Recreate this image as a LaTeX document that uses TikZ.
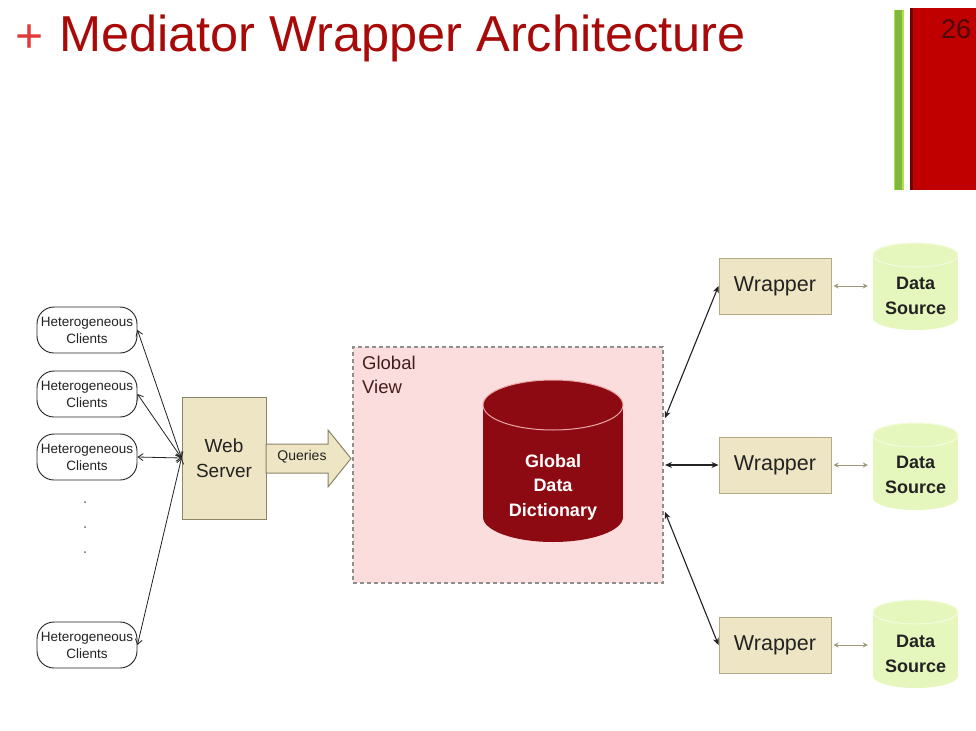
\documentclass[tikz,border=0pt]{standalone}
\usepackage{fontspec}
\setmainfont{Liberation Sans}
\usetikzlibrary{arrows.meta,calc}
\definecolor{titlered}{HTML}{A80A0A}
\definecolor{plusred}{HTML}{E03A3A}
\definecolor{slidered}{HTML}{C00000}
\definecolor{slidedark}{HTML}{700000}
\definecolor{numdark}{HTML}{4A0808}
\definecolor{barg}{HTML}{7DB840}
\definecolor{bargl}{HTML}{B8E040}
\definecolor{beige}{HTML}{EDE5C3}
\definecolor{beigeb}{HTML}{8A8468}
\definecolor{wrapb}{HTML}{B3AA86}
\definecolor{pinkf}{HTML}{FCDDDD}
\definecolor{dashg}{HTML}{8E8E8E}
\definecolor{dictred}{HTML}{8E0A12}
\definecolor{dictline}{HTML}{E8A8A8}
\definecolor{dsgreen}{HTML}{E6F7BE}
\definecolor{dstop}{HTML}{F3FCDD}
\definecolor{olivearrow}{HTML}{A09878}
\definecolor{txt}{HTML}{222222}
\tikzset{
  client/.style={draw=txt, line width=0.9pt, rounded corners=17pt, fill=white,
    minimum width=100pt, minimum height=46pt, inner sep=0pt, align=center,
    text=txt, font=\fontsize{13.5}{17}\selectfont},
  server/.style={draw=beigeb, line width=1pt, fill=beige, minimum width=84pt,
    minimum height=122pt, inner sep=0pt, align=center, text=txt,
    font=\fontsize{19}{25}\selectfont},
  wrapbox/.style={draw=wrapb, line width=1pt, fill=beige, minimum width=112pt,
    minimum height=56pt, inner sep=0pt, text=txt, font=\fontsize{21.5}{25}\selectfont},
  dslabel/.style={inner sep=0pt, align=center, text=txt,
    font=\bfseries\fontsize{18}{25}\selectfont, minimum width=85pt, minimum height=60pt},
  clientarrow/.style={{Straight Barb[length=5pt,width=7pt]}-{Straight Barb[length=5pt,width=7pt]}, draw=txt, line width=0.8pt},
  wraparrow/.style={{Stealth[length=7pt,width=6pt]}-{Stealth[length=7pt,width=6pt]}, draw=txt, line width=1.1pt},
  dsarrow/.style={{Stealth[length=5pt,width=5pt]}-{Stealth[length=5pt,width=5pt]}, draw=olivearrow, line width=0.9pt, shorten <=2pt, shorten >=5pt},
}
\begin{document}
\begin{tikzpicture}[x=1pt,y=-1pt]
\useasboundingbox (0,0) rectangle (976,730);
\fill[white] (0,0) rectangle (976,730);
% title
\node[anchor=base west, inner sep=0pt, text=plusred, font=\fontsize{48}{50}\selectfont] (plus) at (15,53) {+};
\node[anchor=base west, inner sep=0pt, text=titlered, font=\fontsize{50.5}{56}\selectfont] (title) at (59,52) {Mediator Wrapper Architecture};
% slide decoration
\fill[bargl] (894,10) rectangle (904,190);
\fill[barg] (895,10) rectangle (902,190);
\fill[slidered] (910,8) rectangle (976,190);
\fill[slidedark] (910,8) rectangle (913,190);
\node[anchor=base west, inner sep=0pt, text=numdark, font=\fontsize{27}{30}\selectfont] (num) at (941,39) {26};
% clients
\node[client] (c1) at (87,330) {Heterogeneous\\Clients};
\node[client] (c2) at (87,394) {Heterogeneous\\Clients};
\node[client] (c3) at (87,457) {Heterogeneous\\Clients};
\node[client] (c4) at (87,645) {Heterogeneous\\Clients};
\foreach \i/\yy in {1/502,2/527,3/552}{
  \fill[txt!70] (85,\yy) circle (1pt);
}
% web server
\node[server] (ws) at (224,458) {Web\\Server};
\foreach \c in {c1,c2,c3,c4}{
  \draw[clientarrow] (\c.east) -- (ws.west);
}
% queries arrow
\draw[draw=beigeb, line width=1pt, fill=beige, line join=miter]
  (266,444) -- (328,444) -- (328,430) -- (351,458.5) -- (328,487) -- (328,473) -- (266,473) -- cycle;
\node[inner sep=0pt, text=txt, font=\fontsize{14}{16}\selectfont] (q) at (302,457) {Queries};
% global view
\node[draw=dashg, dashed, dash pattern=on 4pt off 3pt, line width=1.2pt, fill=pinkf,
  minimum width=310pt, minimum height=236pt, inner sep=0pt] (gv) at (508,465) {};
\node[anchor=north west, inner sep=0pt, align=left, text=txt!85!red, font=\fontsize{18.5}{24}\selectfont] (gvl) at (362,356) {Global\\View};
% dictionary cylinder
\fill[dictred] (553,517) ellipse [x radius=70pt, y radius=25pt];
\fill[dictred] (483,405) rectangle (623,517);
\draw[dictline, line width=1pt, fill=dictred] (553,405) ellipse [x radius=70pt, y radius=25pt];
\node[inner sep=0pt, align=center, text=white, font=\bfseries\fontsize{18}{24.5}\selectfont] (gdd) at (553,487) {Global\\Data\\Dictionary};
% wrappers
\node[wrapbox] (w1) at (775,286) {Wrapper};
\node[wrapbox] (w2) at (775,465) {Wrapper};
\node[wrapbox] (w3) at (775,645) {Wrapper};
% data sources
\foreach \n/\yt/\yb in {1/255/318,2/435/498,3/612/676}{
  \fill[dsgreen] (915.5,\yb) ellipse [x radius=42.5pt, y radius=12pt];
  \fill[dsgreen] (873,\yt) rectangle (958,\yb);
  \draw[dstop, line width=1pt, fill=dsgreen] (915.5,\yt) ellipse [x radius=42.5pt, y radius=12pt];
}
\node[dslabel] (ds1) at (915.5,296) {Data\\Source};
\node[dslabel] (ds2) at (915.5,475) {Data\\Source};
\node[dslabel] (ds3) at (915.5,654) {Data\\Source};
% connectors global view <-> wrappers
\coordinate (g1) at (665,418);
\coordinate (g2) at (665,465);
\coordinate (g3) at (665,512);
\draw[wraparrow] (g1) -- (w1.west);
\draw[wraparrow] (g2) -- (w2.west);
\draw[wraparrow] (g3) -- (w3.west);
% wrappers <-> data sources
\draw[dsarrow] (w1.east) -- (w1.east -| ds1.west);
\draw[dsarrow] (w2.east) -- (w2.east -| ds2.west);
\draw[dsarrow] (w3.east) -- (w3.east -| ds3.west);
\end{tikzpicture}
\end{document}
